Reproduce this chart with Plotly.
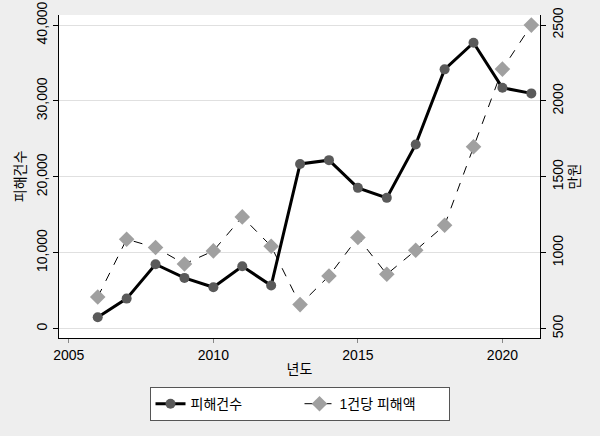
import plotly.graph_objects as go

years = list(range(2006, 2022))
cases = [1500, 3950, 8480, 6680, 5450, 8220, 5670, 21700, 22200, 18550, 17230, 24270, 34170, 37680, 31740, 31000]
per_case = [708, 1089, 1034, 926, 1012, 1236, 1043, 658, 847, 1100, 858, 1016, 1181, 1698, 2210, 2500]

name_cases = "피해건수"
name_per = "1건당 피해액"

FONT = "Liberation Sans, Arial, Noto Sans CJK KR, sans-serif"

fig = go.Figure()
fig.add_trace(go.Scatter(
    x=years, y=cases, name=name_cases, mode="lines+markers",
    line=dict(color="black", width=3),
    marker=dict(symbol="circle", size=10, color="#5a5a5a"),
    yaxis="y"))
fig.add_trace(go.Scatter(
    x=years, y=per_case, name=name_per, mode="lines+markers",
    line=dict(color="black", width=1, dash="dash"),
    marker=dict(symbol="diamond", size=12, color="#a0a0a0"),
    yaxis="y2"))

y0, y1 = -1240, 41333
fig.update_layout(
    width=600, height=436,
    margin=dict(l=59, r=60, t=15, b=98, autoexpand=False),
    paper_bgcolor="#eeeeee", plot_bgcolor="white",
    font=dict(family=FONT, size=14, color="black"),
    hovermode=False,
    xaxis=dict(range=[2004.66, 2021.3], tickvals=[2005, 2010, 2015, 2020],
               showgrid=False, zeroline=False, showline=True, linecolor="black",
               linewidth=1, ticks="outside", ticklen=4, tickcolor="#888888",
               automargin=False,
               title=dict(text="년도", font=dict(size=14), standoff=2)),
    yaxis=dict(range=[y0, y1], tickvals=[0, 10000, 20000, 30000, 40000],
               ticktext=["0", "10,000", "20,000", "30,000", "40,000"],
               tickangle=-90, showgrid=True, gridcolor="#e0e0e0", gridwidth=1,
               zeroline=False, showline=True, linecolor="black", linewidth=1,
               ticks="outside", ticklen=5, tickcolor="black", automargin=False,
               title=dict(text="피해건수", font=dict(size=14), standoff=5)),
    yaxis2=dict(range=[500 + y0 / 20, 500 + y1 / 20], tickvals=[500, 1000, 1500, 2000, 2500],
                overlaying="y", side="right", tickangle=-90, showgrid=False,
                zeroline=False, showline=True, linecolor="black", linewidth=1,
                ticks="outside", ticklen=5, tickcolor="black", automargin=False,
                title=dict(text="만원", font=dict(size=14), standoff=4)),
    legend=dict(orientation="h", x=0.5, xanchor="center", y=-0.152, yanchor="top",
                bgcolor="white", bordercolor="#555555", borderwidth=1,
                font=dict(size=14), tracegroupgap=0,
                entrywidth=104, entrywidthmode="pixels"),
    showlegend=True,
)

fig.write_html("out.html", config={"displayModeBar": False},
               post_script="document.body.style.margin='0';document.body.style.background='#eeeeee';")
